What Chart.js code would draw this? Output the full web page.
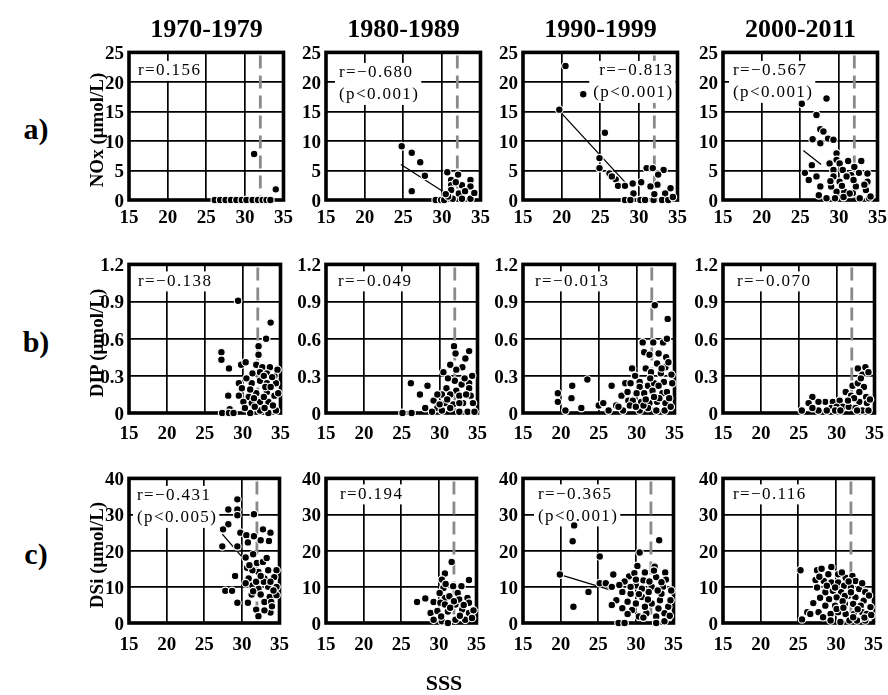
<!DOCTYPE html>
<html><head><meta charset="utf-8">
<script src="https://cdn.jsdelivr.net/npm/chart.js@4.4.0/dist/chart.umd.min.js"></script>
<style>
body{margin:0;background:#fff;width:888px;height:695px;position:relative;overflow:hidden;font-family:"Liberation Serif","Times New Roman",serif;}
.lbl{position:absolute;font-weight:bold;color:#000;white-space:nowrap;transform:translate(-50%,-50%);line-height:1;}
.rot{transform:translate(-50%,-50%) rotate(-90deg);}
canvas{position:absolute;}
</style></head><body>
<script>
// ---------- data ----------
const periods = ['1970-1979','1980-1989','1990-1999','2000-2011'];
const rowLetters = ['a)','b)','c)'];
const rowTitles = ['NOx (μmol/L)','DIP (μmol/L)','DSi (μmol/L)'];
const xTitle = 'SSS';
const xTicks = [15,20,25,30,35];
const noxTicks = [0,5,10,15,20,25];
const dipTicks = [0,0.3,0.6,0.9,1.2];
const dsiTicks = [0,10,20,30,40];
const thresholdSSS = 32;

const nox7079 = [[31.2,7.8],[34.0,1.8],[26.1,0],[26.8,0],[27.5,0],[28.2,0],[28.9,0],[29.6,0],[30.2,0],[31.0,0],[31.7,0],[32.3,0],[32.8,0],[33.3,0]];
const nox8089 = [[24.8,9.1],[26.1,8.0],[27.2,6.4],[27.8,4.1],[26.1,1.5],[30.7,4.7],[32.1,4.3],[31.2,3.4],[31.2,2.5],[32.6,2.5],[33.7,3.4],[33.7,2.3],[31.2,1.7],[32.2,1.1],[31.4,0.2],[32.6,0.2],[33.7,0.2],[29.2,0],[29.9,0],[30.3,0],[30.8,0.6],[33.0,1.5],[34.2,1.2],[31.8,3.0],[30.5,1.0]];
const nox9099 = [[20.5,22.7],[22.8,17.9],[19.7,15.3],[25.6,11.4],[24.9,7.1],[24.9,5.4],[26.2,4.5],[27.0,3.5],[27.3,2.4],[28.2,2.4],[29.2,2.8],[30.3,3.0],[29.3,1.1],[31.0,5.4],[31.8,5.4],[33.2,5.1],[32.5,4.3],[32.4,2.6],[31.5,2.3],[34.1,2.0],[33.4,1.1],[28.2,0],[28.9,0],[30.2,0],[30.8,0],[31.9,0],[33.0,0],[33.8,0],[26.5,4.0],[32.0,1.0],[34.4,0.5]];
const nox0011 = [[25.2,16.3],[28.4,17.2],[27.1,14.4],[27.6,12.0],[28.0,11.6],[26.6,10.3],[27.6,9.6],[28.6,10.4],[29.3,10.2],[29.7,7.9],[26.5,5.9],[25.6,4.6],[26.1,3.4],[27.1,4.0],[27.6,2.3],[27.4,0.8],[28.8,6.2],[29.7,6.8],[30.1,6.2],[31.2,6.6],[32.0,5.6],[32.9,6.6],[29.3,5.1],[30.5,5.1],[31.6,4.2],[30.1,3.1],[29.3,4.0],[33.7,4.5],[33.7,3.1],[30.7,1.4],[31.8,1.2],[31.4,1.1],[32.7,0.3],[33.9,0.3],[28.4,0.3],[29.7,1.4],[29.0,2.3],[32.2,2.3],[33.5,1.7],[34.1,0.6],[29.5,0.3],[30.4,2.4],[31.0,4.0],[32.6,4.6],[33.3,2.6],[31.9,3.4],[30.6,0.5],[28.9,3.2]];
const noxFit8089 = [[24.7,6.0],[30.2,1.4]];
const noxFit9099 = [[19.7,15.1],[28.5,2.6]];
const noxFit0011 = [[25.4,8.4],[27.7,6.0]];

const dip7079 = [[29.4,0.906],[33.7,0.73],[33.1,0.60],[32.1,0.54],[32.1,0.47],[27.2,0.49],[27.2,0.43],[28.2,0.36],[29.8,0.39],[30.4,0.41],[31.8,0.39],[32.6,0.37],[33.6,0.37],[31.3,0.32],[32.3,0.33],[33.2,0.32],[34.2,0.30],[29.5,0.24],[31.2,0.24],[32.3,0.26],[33.2,0.24],[34.4,0.24],[28.1,0.14],[29.5,0.14],[30.8,0.13],[31.8,0.16],[33.2,0.17],[34.2,0.14],[30.1,0.09],[31.2,0.08],[32.3,0.09],[33.4,0.09],[28.3,0.03],[27.3,0],[28.2,0],[28.8,0],[31.0,0],[32.3,0.02],[33.4,0],[34.4,0.02],[30.3,0.04],[31.5,0.12],[33.0,0.21],[33.9,0.29],[34.7,0.16],[30.5,0.28],[31.0,0.19],[32.8,0.30],[34.0,0.06],[33.7,0.21],[32.8,0.13],[31.6,0.05],[29.9,0.20],[34.6,0.35],[32.9,0.04]];
const dip8089 = [[26.2,0.24],[27.4,0.15],[28.4,0.22],[28.1,0.04],[25.1,0],[26.3,0],[31.9,0.54],[32.1,0.48],[33.9,0.50],[33.4,0.44],[31.4,0.39],[33.0,0.37],[32.2,0.35],[30.5,0.33],[32.0,0.26],[32.9,0.23],[33.9,0.24],[30.9,0.20],[32.2,0.18],[33.9,0.20],[30.3,0.15],[31.4,0.15],[32.6,0.14],[34.1,0.14],[29.2,0.10],[30.7,0.08],[31.8,0.07],[33.1,0.08],[34.4,0.08],[29.7,0.04],[31.4,0.04],[32.6,0.01],[33.7,0.01],[34.6,0.01],[29.0,0.01],[30.3,0.02],[31.1,0.28],[33.3,0.28],[32.6,0.08],[34.3,0.30],[31.0,0.11],[30.0,0.07],[33.5,0.15],[29.7,0.15]];
const dip9099 = [[19.6,0.16],[19.6,0.09],[21.5,0.22],[21.4,0.12],[20.6,0.02],[23.5,0.27],[22.7,0.04],[25.0,0.06],[25.6,0.08],[26.3,0.02],[26.7,0.22],[27.3,0.06],[28.0,0.14],[28.5,0.24],[29.4,0.36],[29.2,0.24],[28.9,0.10],[28.2,0.02],[30.4,0.25],[30.8,0.57],[32.2,0.57],[33.5,0.57],[34.0,0.60],[32.4,0.87],[34.1,0.76],[31.0,0.49],[31.7,0.47],[32.9,0.48],[33.9,0.45],[32.7,0.40],[33.8,0.37],[31.2,0.36],[31.9,0.33],[33.2,0.32],[34.2,0.41],[30.4,0.21],[31.5,0.22],[32.3,0.24],[33.6,0.25],[34.7,0.24],[30.0,0.16],[31.0,0.16],[32.1,0.18],[33.4,0.16],[34.0,0.17],[29.5,0.10],[30.6,0.09],[31.7,0.08],[32.7,0.09],[33.8,0.08],[30.4,0.02],[31.5,0.04],[32.6,0.02],[33.7,0.02],[34.5,0.05],[29.1,0.06],[27.6,0.05],[29.8,0.30],[31.8,0.28],[33.0,0.12],[34.3,0.12],[30.9,0.06],[32.3,0.13],[33.3,0.36],[28.8,0.17],[29.9,0.05],[31.2,0.11],[34.6,0.31],[32.9,0.22]];
const dip0011 = [[25.4,0.02],[26.8,0.13],[26.3,0.08],[27.6,0.02],[28.5,0.09],[27.6,0.09],[29.5,0.09],[29.3,0.04],[30.4,0.10],[30.8,0.05],[31.2,0.17],[31.9,0.14],[32.1,0.22],[31.6,0.05],[32.8,0.36],[33.8,0.37],[33.4,0.31],[32.8,0.24],[33.6,0.21],[33.0,0.17],[33.9,0.13],[33.0,0.09],[34.0,0.08],[32.5,0.04],[33.4,0.02],[34.2,0.02],[30.0,0.05],[28.7,0.02],[26.8,0.04],[32.3,0.12],[31.5,0.10],[29.8,0.02],[32.7,0.02],[30.5,0.02],[34.4,0.11],[33.2,0.28],[34.2,0.33]];

const dsi7079 = [[29.4,34.2],[28.2,31.4],[29.4,31.4],[29.4,29.8],[31.6,30.1],[28.2,27.3],[27.5,25.9],[29.8,25.0],[30.6,24.3],[31.6,24.0],[32.8,25.9],[33.8,25.0],[32.5,22.9],[33.6,22.7],[30.8,22.3],[27.4,21.2],[29.4,21.2],[31.5,19.0],[30.5,18.1],[30.7,15.3],[32.0,16.6],[32.8,16.9],[33.5,14.6],[34.6,14.6],[29.1,13.0],[30.9,12.3],[32.2,14.1],[33.0,12.3],[34.3,12.7],[27.8,8.9],[28.7,8.9],[31.4,10.4],[32.2,9.5],[33.5,10.0],[34.6,10.0],[31.3,7.9],[32.5,7.9],[33.7,7.2],[34.6,7.7],[29.4,5.6],[30.8,5.6],[33.0,5.8],[33.9,5.8],[31.9,3.7],[32.2,1.9],[33.8,2.9],[32.9,11.4],[33.8,11.4],[31.9,11.4],[31.4,14.6],[31.0,16.0],[33.3,18.0],[32.5,13.0],[31.5,8.8],[34.2,9.0],[30.5,11.0],[33.0,3.5],[34.0,4.6]];
const dsi8089 = [[27.1,5.8],[28.2,6.8],[29.3,5.8],[31.7,16.9],[30.8,13.7],[30.4,12.0],[34.0,11.9],[31.9,10.2],[33.0,10.2],[30.6,9.7],[32.5,8.3],[33.8,6.9],[30.8,6.9],[30.2,5.6],[32.2,5.1],[30.8,5.1],[34.0,5.6],[31.2,3.2],[33.1,3.7],[34.0,2.8],[28.9,2.8],[29.3,0.9],[30.4,0.5],[31.2,0],[32.2,0.9],[33.5,0.9],[34.4,1.4],[32.7,6.5],[31.4,7.4],[30.1,8.3],[30.9,10.8],[32.0,6.0],[33.3,5.0],[31.5,4.2],[34.6,3.5],[29.8,3.3],[30.3,1.8],[32.8,2.0]];
const dsi9099 = [[21.8,27.0],[21.6,22.6],[19.9,13.4],[21.7,4.5],[23.7,8.6],[25.2,18.4],[25.2,11.0],[26.0,11.0],[30.5,19.5],[33.1,22.9],[27.0,13.4],[26.8,10.0],[27.4,6.3],[26.8,5.0],[27.7,0],[28.5,0],[29.1,12.9],[28.2,8.6],[29.3,8.1],[30.2,15.8],[31.2,14.0],[32.5,15.6],[33.9,14.0],[32.7,12.7],[31.0,11.8],[30.0,10.4],[32.1,10.0],[33.6,10.0],[34.7,9.0],[28.9,5.9],[30.8,7.2],[32.1,5.4],[33.2,6.3],[34.3,4.5],[29.5,3.6],[30.4,1.8],[31.4,2.7],[32.7,1.8],[33.8,2.7],[32.7,0],[33.8,0.5],[28.2,4.1],[30.0,5.4],[31.7,8.6],[33.4,8.1],[30.8,9.5],[31.2,4.5],[28.5,11.5],[29.8,13.8],[31.8,11.5],[32.9,9.0],[34.0,12.0],[29.3,10.0],[30.4,8.0],[31.6,6.5],[33.0,4.0],[34.5,2.0],[28.9,2.5],[30.0,12.0],[32.4,14.5],[27.8,10.5],[31.0,1.5],[33.4,11.3],[34.6,6.3]];
const dsi0011 = [[25.3,14.6],[25.5,1.0],[26.2,3.0],[27.0,5.5],[26.6,2.5],[27.7,3.0],[27.5,14.6],[28.1,15.0],[29.4,15.5],[27.3,11.9],[28.4,11.6],[27.5,9.8],[29.0,13.5],[30.3,13.5],[31.3,12.5],[32.2,13.0],[32.6,11.6],[29.4,11.2],[30.3,11.2],[31.1,10.3],[32.0,9.8],[33.1,9.4],[33.9,8.6],[28.6,8.5],[29.6,8.9],[30.7,8.5],[31.6,7.5],[32.6,7.1],[33.7,6.2],[30.1,7.1],[29.1,6.6],[28.6,4.8],[29.9,4.8],[31.2,5.3],[32.3,5.3],[33.3,4.8],[34.6,4.4],[29.3,2.5],[30.3,3.0],[31.3,2.5],[32.4,2.5],[33.5,3.0],[34.1,2.5],[29.3,0.7],[30.6,0.3],[31.8,0.7],[32.8,0.7],[33.9,0.7],[30.1,3.9],[31.2,7.5],[32.0,8.5],[27.8,12.8],[28.8,10.3],[30.8,14.0],[31.7,11.5],[33.5,11.0],[34.4,7.6],[27.9,7.0],[29.9,9.8],[30.9,6.0],[32.9,3.8],[33.8,1.5],[34.7,2.2],[28.3,1.6],[31.0,4.2],[32.3,1.6]];
const dsiFit7079 = [[27.4,24.6],[30.1,18.1]];
const dsiFit9099 = [[19.9,13.4],[26.8,9.0]];

const noxNotes = [['r=0.156'],['r=−0.680','(p<0.001)'],['r=−0.813','(p<0.001)'],['r=−0.567','(p<0.001)']];
const dipNotes = [['r=−0.138'],['r=−0.049'],['r=−0.013'],['r=−0.070']];
const dsiNotes = [['r=−0.431','(p<0.005)'],['r=0.194'],['r=−0.365','(p<0.001)'],['r=−0.116']];

// ---------- layout ----------
const FONT = '"Liberation Serif","Times New Roman",serif';
const panelLeft = [129,326,523,723];
const panelW = 155;
const rowTop = [52,264,478];
const rowH = [148,149,145];
const xLabelPad = [7,10,11];
const noteDx = [[9,13,-4,10],[9,12,12,14],[8,14,15,10]];
const noteDy = [[18.5,20.5,18.5,18.5],[17,17,17,17],[17.5,16,16,16]];
const noteAlign = [['left','left','right','left'],['left','left','left','left'],['left','left','left','left']];

const rows = [
  {ticks:noxTicks, data:[nox7079,nox8089,nox9099,nox0011], fits:[null,noxFit8089,noxFit9099,noxFit0011], notes:noxNotes},
  {ticks:dipTicks, data:[dip7079,dip8089,dip9099,dip0011], fits:[null,null,null,null], notes:dipNotes},
  {ticks:dsiTicks, data:[dsi7079,dsi8089,dsi9099,dsi0011], fits:[dsiFit7079,null,dsiFit9099,null], notes:dsiNotes}
];

function addLabel(text, x, y, size, rot){
  const d = document.createElement('div');
  d.className = 'lbl' + (rot ? ' rot' : '');
  d.textContent = text;
  d.style.left = x + 'px'; d.style.top = y + 'px';
  d.style.fontSize = size + 'px';
  document.body.appendChild(d);
}

const deco = {
  id:'deco',
  beforeDatasetsDraw(chart, args, opts){
    const {ctx, chartArea:a} = chart;
    const xs = chart.scales.x;
    ctx.save();
    const xx = xs.getPixelForValue(thresholdSSS);
    ctx.strokeStyle = '#8a8a8a'; ctx.lineWidth = 2.8; ctx.setLineDash([13,7]);
    ctx.beginPath(); ctx.moveTo(xx, a.top + 3); ctx.lineTo(xx, a.bottom); ctx.stroke();
    ctx.setLineDash([]);
    ctx.font = '17px ' + FONT;
    try { ctx.letterSpacing = '1.4px'; } catch(e) {}
    ctx.textBaseline = 'middle';
    const lines = opts.lines;
    let maxW = 0;
    lines.forEach(t => { maxW = Math.max(maxW, ctx.measureText(t).width); });
    const lh = 22;
    let x0;
    if (opts.align === 'right') x0 = a.right + opts.dx - maxW; else x0 = a.left + opts.dx;
    const y0 = a.top + opts.dy;
    ctx.fillStyle = '#fff';
    ctx.fillRect(x0 - 4, y0 - 10, maxW + 6, lh * (lines.length - 1) + 20);
    ctx.fillStyle = '#000';
    ctx.textAlign = 'left';
    lines.forEach((t, i) => {
      const w = ctx.measureText(t).width;
      const tx = opts.align === 'right' ? x0 + maxW - w : x0;
      ctx.fillText(t, tx, y0 + i * lh);
    });
    try { ctx.letterSpacing = '0px'; } catch(e) {}
    ctx.strokeStyle = '#000'; ctx.lineWidth = 3.6;
    ctx.strokeRect(a.left, a.top, a.right - a.left, a.bottom - a.top);
    ctx.restore();
  }
};

const padL = 48, padT = 16, padR = 16, padB = 36;

rows.forEach((row, r) => {
  periods.forEach((p, c) => {
    const L = panelLeft[c], T = rowTop[r], H = rowH[r];
    const cv = document.createElement('canvas');
    const W = panelW + padL + padR, HH = H + padT + padB;
    cv.width = W; cv.height = HH;
    cv.style.width = W + 'px'; cv.style.height = HH + 'px';
    cv.style.left = (L - padL) + 'px'; cv.style.top = (T - padT) + 'px';
    document.body.appendChild(cv);
    const datasets = [{
      data: row.data[c].map(d => ({x:d[0], y:d[1]})),
      pointRadius: 3.8, pointHoverRadius: 3.8,
      pointBackgroundColor: '#000', pointBorderColor: '#fff', pointBorderWidth: 1.2,
      showLine: false, clip: false
    }];
    if (row.fits[c]) datasets.push({
      data: row.fits[c].map(d => ({x:d[0], y:d[1]})),
      showLine: true, borderColor: '#000', borderWidth: 1.3, pointRadius: 0, fill: false
    });
    const tks = row.ticks;
    new Chart(cv, {
      type: 'scatter',
      data: {datasets},
      options: {
        responsive: false, animation: false, devicePixelRatio: 1, events: [],
        layout: {padding: {top: padT, right: padR, left: 0, bottom: 0}},
        plugins: {legend: {display: false}, tooltip: {enabled: false},
          deco: {lines: row.notes[c], dx: noteDx[r][c], dy: noteDy[r][c], align: noteAlign[r][c]}},
        scales: {
          x: {type: 'linear', min: xTicks[0], max: xTicks[xTicks.length-1],
            afterFit(s){ s.height = padB; },
            afterBuildTicks(s){ s.ticks = xTicks.map(v => ({value: v})); },
            grid: {color: '#000', lineWidth: 1.7, drawTicks: false},
            border: {display: false},
            ticks: {font: {family: FONT, size: 19, weight: 'bold'}, color: '#000', padding: xLabelPad[r], maxRotation: 0, autoSkip: false}},
          y: {type: 'linear', min: tks[0], max: tks[tks.length-1],
            afterFit(s){ s.width = padL; },
            afterBuildTicks(s){ s.ticks = tks.map(v => ({value: v})); },
            grid: {color: '#000', lineWidth: 1.7, drawTicks: false},
            border: {display: false},
            ticks: {font: {family: FONT, size: 19, weight: 'bold'}, color: '#000', padding: 5, labelOffset: 2, autoSkip: false,
              callback: v => v === 0 ? '0' : (r === 1 ? v.toFixed(1) : String(v))}}
        }
      },
      plugins: [deco]
    });
  });
});

periods.forEach((p, c) => addLabel(p, panelLeft[c] + panelW / 2, 29, 26));
const rowCenters = rowTop.map((t, i) => t + rowH[i] / 2);
rowLetters.forEach((t, i) => addLabel(t, 36, rowCenters[i] + 3, 30));
rowTitles.forEach((t, i) => addLabel(t, 96, rowCenters[i] + 4, 19, true));
addLabel(xTitle, 444, 683, 22);
</script>
</body></html>
